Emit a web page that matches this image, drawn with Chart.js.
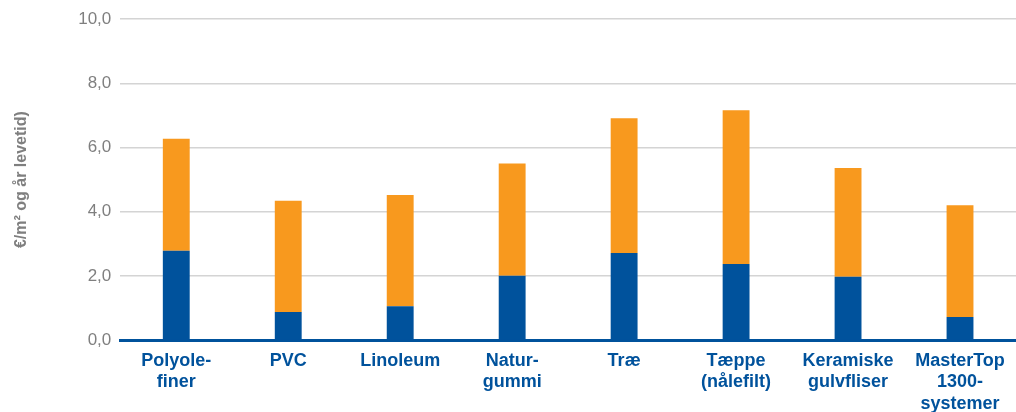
<!DOCTYPE html>
<html>
<head>
<meta charset="utf-8">
<script src="https://cdn.jsdelivr.net/npm/chart.js@4"></script>
<style>
  html, body { margin: 0; padding: 0; background: #fff; }
  #wrap { width: 1016px; height: 412px; position: relative; }
</style>
</head>
<body>
<div id="wrap"><canvas id="myChart"></canvas></div>
<script>
// categories (multi-line labels)
const categories = [
    ['Polyole-', 'finer'],
    ['PVC'],
    ['Linoleum'],
    ['Natur-', 'gummi'],
    ['Træ'],
    ['Tæppe', '(nålefilt)'],
    ['Keramiske', 'gulvfliser'],
    ['MasterTop', '1300-', 'systemer']
];
// lower (blue) and upper (orange) parts of each stack
const blueValues = [2.78, 0.87, 1.05, 2.0, 2.71, 2.37, 1.97, 0.72];
const orangeValues = [3.49, 3.47, 3.47, 3.5, 4.2, 4.79, 3.39, 3.48];
const yTicks = [0, 2, 4, 6, 8, 10];
const yTitle = '€/m² og år levetid)';

const ctx = document.getElementById('myChart').getContext('2d');

new Chart(ctx, {
    type: 'bar',
    data: {
        labels: categories,
        datasets: [{
            data: blueValues,
            backgroundColor: '#00529c',
            barPercentage: 0.48,
            categoryPercentage: 0.5
        }, {
            data: orangeValues,
            backgroundColor: '#f8991e',
            barPercentage: 0.48,
            categoryPercentage: 0.5
        }]
    },
    options: {
        responsive: true,
        maintainAspectRatio: false,
        animation: false,
        layout: { padding: { top: 10, right: 0, left: 12, bottom: 0 } },
        plugins: {
            legend: { display: false },
            tooltip: { enabled: false }
        },
        scales: {
            x: {
                stacked: true,
                grid: { display: false, drawTicks: false },
                border: { color: '#00529c', width: 3 },
                ticks: {
                    color: '#00529c',
                    font: { family: 'Liberation Sans, Arial, sans-serif', size: 18, weight: 'bold', lineHeight: 1.2 },
                    padding: 10,
                    maxRotation: 0,
                    autoSkip: false
                },
                // labels may run to the bottom edge, like the original
                afterFit: function(axis) {
                    axis.height = 72;
                }
            },
            y: {
                stacked: true,
                min: 0,
                max: 10,
                afterBuildTicks: function(axis) {
                    axis.ticks = yTicks.map(v => ({ value: v }));
                },
                grid: { color: '#d4d4d4', lineWidth: 1.5, drawTicks: false },
                border: { display: false },
                ticks: {
                    color: '#7f7f7f',
                    font: { family: 'Liberation Sans, Arial, sans-serif', size: 17 },
                    padding: 9,
                    callback: function(value) {
                        return value.toFixed(1).replace('.', ',');
                    }
                },
                title: {
                    display: true,
                    text: yTitle,
                    color: '#7f7f7f',
                    font: { family: 'Liberation Sans, Arial, sans-serif', size: 16, weight: 'bold' },
                    padding: { top: 0, bottom: 38 }
                }
            }
        }
    }
});
</script>
</body>
</html>
